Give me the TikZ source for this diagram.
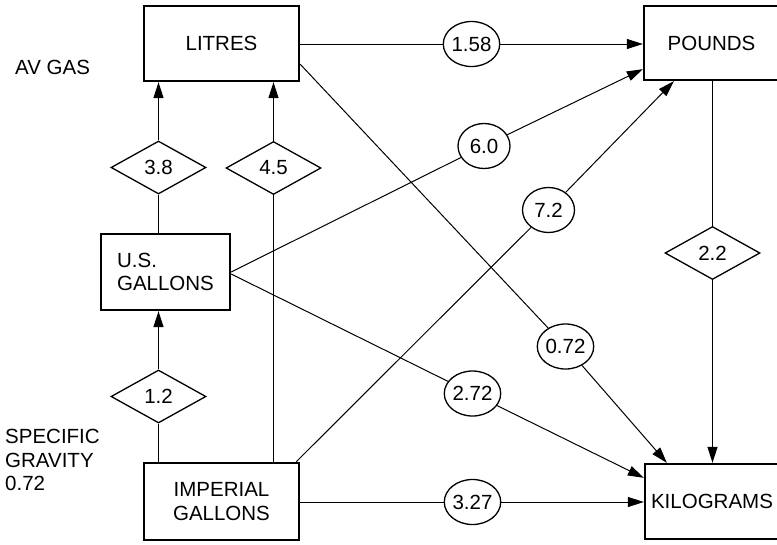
\documentclass[tikz,border=0pt]{standalone}
\usepackage{fontspec}
\setmainfont{Liberation Sans}
\usetikzlibrary{arrows.meta,shapes.geometric,calc}
\begin{document}
\begin{tikzpicture}[x=1pt,y=-1pt,
  every node/.style={font=\fontsize{20.5}{23.5}\selectfont},
  box/.style={draw,line width=2.3pt,rectangle,inner sep=0pt},
  dia/.style={draw,line width=1.3pt,diamond,aspect=1.79,inner sep=0pt,minimum width=95pt,minimum height=53pt},
  ell/.style={draw,line width=1.3pt,ellipse,inner sep=0pt,minimum width=52pt,minimum height=45pt},
  conn/.style={line width=1pt},
  vconn/.style={line width=1.2pt},
  arr/.style={-{Triangle[length=16pt,width=10pt]}},
  lbl/.style={anchor=west,align=left,inner sep=0pt}
]
\useasboundingbox (0,0) rectangle (777,544);

% boxes
\node[box,minimum width=155pt,minimum height=75pt] (litres) at (221.5,43.5) {LITRES};
\node[box,minimum width=135pt,minimum height=74pt] (pounds) at (711.5,43) {POUNDS};
\node[box,minimum width=129pt,minimum height=76pt,align=left] (usg) at (165.5,272) {U.S.\\GALLONS};
\node[box,minimum width=155pt,minimum height=77pt,align=center] (imp) at (221.5,501.5) {IMPERIAL\\GALLONS};
\node[box,minimum width=134pt,minimum height=75pt] (kg) at (712,501.5) {KILOGRAMS};

% diamonds
\node[dia] (d38) at (158.5,167.5) {3.8};
\node[dia] (d45) at (273.5,168) {4.5};
\node[dia] (d12) at (158.5,396.5) {1.2};
\node[dia] (d22) at (712.5,253) {2.2};

% ellipses
\node[ell] (e158) at (471.5,44) {1.58};
\node[ell] (e60) at (484,146) {6.0};
\node[ell] (e72) at (548.5,210) {7.2};
\node[ell] (e072) at (565.5,346.5) {0.72};
\node[ell] (e272) at (472.5,393.5) {2.72};
\node[ell] (e327) at (472.5,502) {3.27};

% side labels
\node[lbl] (avgas) at (15,67) {AV GAS};
\node[lbl] (sg) at (5,460) {SPECIFIC\\GRAVITY\\0.72};

% anchor points on boxes
\coordinate (usgA) at ($(usg.east)+(0,0)$);
\coordinate (usgB) at ($(usg.east)+(0,2)$);
\coordinate (impA) at ($(imp.north east)+(-4,0)$);
\coordinate (litA) at ($(litres.south east)+(0,-18)$);
\coordinate (pndA) at ($(pounds.south west)+(0,-12)$);
\coordinate (pndB) at ($(pounds.south west)+(31,0)$);
\coordinate (kgA) at ($(kg.north west)+(23,0)$);
\coordinate (kgB) at ($(kg.north west)+(0,15)$);

% horizontal connectors
\draw[conn] (litres.east |- e158) -- (e158);
\draw[conn,arr] (e158) -- (pounds.west |- e158);
\draw[conn] (imp.east |- e327) -- (e327);
\draw[conn,arr] (e327) -- (kg.west |- e327);

% diagonal connectors
\draw[conn] (usgA) -- (e60);
\draw[conn,arr] (e60) -- (pndA);
\draw[conn] (impA) -- (e72);
\draw[conn,arr] (e72) -- (pndB);
\draw[conn] (litA) -- (e072);
\draw[conn,arr] (e072) -- (kgA);
\draw[conn] (usgB) -- (e272);
\draw[conn,arr] (e272) -- (kgB);

% vertical connectors
\draw[vconn,arr] (d38.north) -- (d38.north |- litres.south);
\draw[vconn] (d38.south) -- (d38.south |- usg.north);
\draw[vconn,arr] (d45.north) -- (d45.north |- litres.south);
\draw[vconn] (d45.south) -- (d45.south |- imp.north);
\draw[vconn,arr] (d12.north) -- (d12.north |- usg.south);
\draw[vconn] (d12.south) -- (d12.south |- imp.north);
\draw[vconn] (d22.north |- pounds.south) -- (d22.north);
\draw[vconn,arr] (d22.south) -- (d22.south |- kg.north);
\end{tikzpicture}
\end{document}
